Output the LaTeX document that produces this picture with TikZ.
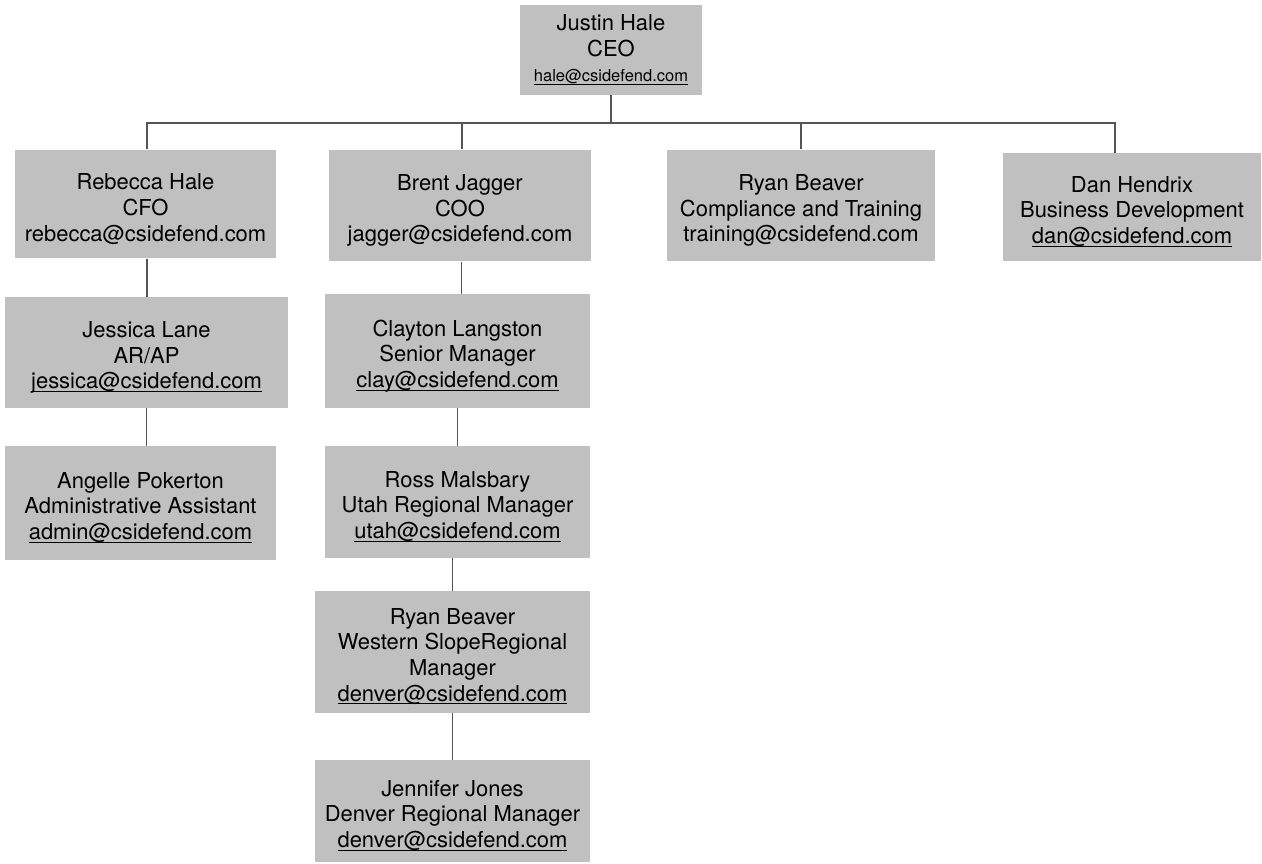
\documentclass[tikz,border=0pt]{standalone}
\usepackage{fontspec}
\setmainfont{TeX Gyre Heros}
\usepackage{xcolor}
\usepackage{tikz}
\usetikzlibrary{positioning}
\definecolor{BoxGray}{RGB}{192,192,192}
\definecolor{LineGray}{RGB}{85,85,85}
\newcommand\mail[1]{\underline{\smash{#1}}\vphantom{g}}
\newcommand\lift{\rule{0pt}{15pt}}

\begin{document}
\begin{tikzpicture}[
  x=0.02cm, y=-0.02cm,
  box/.style={fill=BoxGray, inner sep=0pt, align=center,
              font=\fontsize{12.5}{14.6}\selectfont},
  link/.style={draw=LineGray, line width=0.6pt}
]
  \useasboundingbox (0,0) rectangle (1262,863);
  % top level
  \node[box, minimum width=3.64cm, minimum height=1.8cm] (ceo) at (611,50)
    {Justin Hale\\ CEO\\ {\fontsize{9.4}{11}\selectfont\mail{hale@csidefend.com}}};
  \node[box, minimum width=5.22cm, minimum height=2.18cm] (cfo) at (145.5,204)
    {\lift Rebecca Hale\\ CFO\\ rebecca@csidefend.com};
  \node[box, minimum width=5.24cm, minimum height=2.24cm] (coo) at (460,205.5)
    {\lift Brent Jagger\\ COO\\ jagger@csidefend.com};
  \node[box, minimum width=5.36cm, minimum height=2.24cm] (ryanc) at (801,205.5)
    {\lift Ryan Beaver\\ Compliance and Training\\ training@csidefend.com};
  \node[box, minimum width=5.16cm, minimum height=2.16cm] (dan) at (1132,207)
    {\lift Dan Hendrix\\ Business Development\\ \mail{dan@csidefend.com}};
  % finance branch
  \node[box, minimum width=5.66cm, minimum height=2.22cm] (jessica) at (146.5,352.5)
    {\lift Jessica Lane\\ AR/AP\\ \mail{jessica@csidefend.com}};
  \node[box, minimum width=5.42cm, minimum height=2.28cm] (angelle) at (140.5,503)
    {\lift Angelle Pokerton\\ Administrative Assistant\\ \mail{admin@csidefend.com}};
  % operations branch
  \node[box, minimum width=5.3cm, minimum height=2.28cm] (clay) at (457.5,351)
    {\lift Clayton Langston\\ Senior Manager\\ \mail{clay@csidefend.com}};
  \node[box, minimum width=5.3cm, minimum height=2.24cm] (ross) at (457.5,502)
    {\lift Ross Malsbary\\ Utah Regional Manager\\ \mail{utah@csidefend.com}};
  \node[box, minimum width=5.5cm, minimum height=2.44cm] (western) at (452.5,652)
    {\lift Ryan Beaver\\ Western SlopeRegional\\ Manager\\ \mail{denver@csidefend.com}};
  \node[box, minimum width=5.5cm, minimum height=2.04cm] (jennifer) at (452.5,811)
    {\lift Jennifer Jones\\ Denver Regional Manager\\ \mail{denver@csidefend.com}};

  \coordinate (bus) at (611,123);
  \draw[link] (ceo) -- (bus);
  \draw[link] ([xshift=0.03cm]cfo.north) |- (bus) -| ([xshift=-0.34cm]dan.north);
  \draw[link] ([xshift=0.04cm]coo.north) -- ([xshift=0.04cm]coo.north |- bus);
  \draw[link] (ryanc.north) -- (ryanc.north |- bus);
  \draw[link] ([xshift=0.03cm]cfo.south) -- ([xshift=0.03cm]cfo.south |- jessica.north);
  \draw[link] (jessica.south) -- (jessica.south |- angelle.north);
  \draw[link] ([xshift=0.03cm]coo.south) -- ([xshift=0.03cm]coo.south |- clay.north);
  \draw[link] (clay.south) -- (clay.south |- ross.north);
  \draw[link] (western.north |- ross.south) -- (western.north);
  \draw[link] (western) -- (jennifer);
\end{tikzpicture}
\end{document}
